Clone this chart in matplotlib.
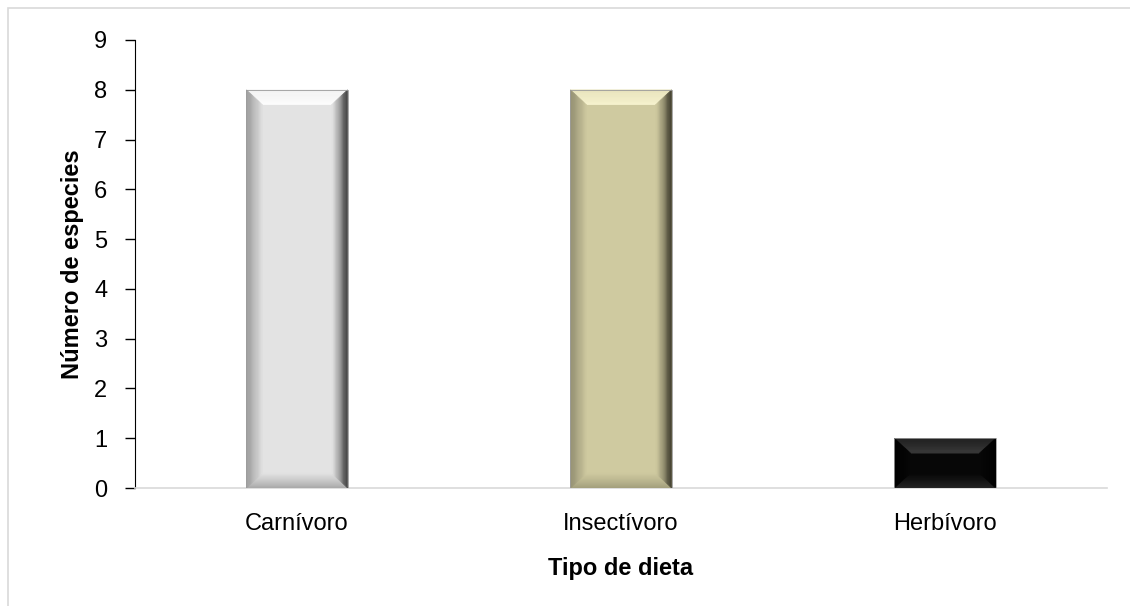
import matplotlib.pyplot as plt
import matplotlib.patches as mpatches
import matplotlib.colors as mcolors
import numpy as np

plt.rcParams['font.family'] = ['Liberation Sans', 'DejaVu Sans']

categorias = ['Carnívoro', 'Insectívoro', 'Herbívoro']
especies = [8, 8, 1]
colores_base = ['#e3e3e3', '#cfcaa0', '#070707']
colores_luz = ['#ffffff', '#fbf7d3', '#3a3a3a']
colores_izq = ['#989898', '#918d70', '#000000']
colores_der = ['#2a2a2a', '#2c2a1f', '#000000']
colores_inf = ['#a8a8a8', '#a29e7c', '#262626']


def mezcla(c1, c2, t):
    a = np.array(mcolors.to_rgb(c1))
    b = np.array(mcolors.to_rgb(c2))
    return tuple(np.clip(a + (b - a) * t, 0, 1))


def trapecio(ax, pts, color):
    ax.add_patch(mpatches.Polygon(pts, facecolor=color, edgecolor=color,
                                  linewidth=0.3, zorder=3))


def barra_biselada(ax, x, h, w, base, luz, izq, der, inf, bx=0.05, by=0.3, n=14):
    x0, x1 = x - w / 2, x + w / 2
    ax.add_patch(mpatches.Rectangle((x0, 0), w, h, facecolor=base,
                                    edgecolor='none', zorder=2))
    by = min(by, h / 3)
    # bisel dibujado en franjas para simular el degradado
    for i in range(n):
        t0, t1 = i / n, (i + 1) / n
        k = 1 - (i + 0.5) / n   # 1 en el borde, 0 hacia el interior
        trapecio(ax, [(x0 + bx * t0, h - by * t0), (x1 - bx * t0, h - by * t0),
                      (x1 - bx * t1, h - by * t1), (x0 + bx * t1, h - by * t1)],
                 mezcla(base, luz, 0.55 + 0.45 * (1 - k)))
        trapecio(ax, [(x0 + bx * t0, by * t0), (x1 - bx * t0, by * t0),
                      (x1 - bx * t1, by * t1), (x0 + bx * t1, by * t1)],
                 mezcla(base, inf, k))
        trapecio(ax, [(x0 + bx * t0, by * t0), (x0 + bx * t0, h - by * t0),
                      (x0 + bx * t1, h - by * t1), (x0 + bx * t1, by * t1)],
                 mezcla(base, izq, k ** 0.9))
        trapecio(ax, [(x1 - bx * t0, by * t0), (x1 - bx * t0, h - by * t0),
                      (x1 - bx * t1, h - by * t1), (x1 - bx * t1, by * t1)],
                 mezcla(base, der, k ** 1.3))
    ax.add_patch(mpatches.Rectangle((x0, 0), w, h, facecolor='none',
                                    edgecolor='#9a9a9a', linewidth=0.6, zorder=4))


fig = plt.figure(figsize=(11.3, 6.06), dpi=100)
ax = fig.add_axes([135 / 1130, 0.1947, 972 / 1130, 0.7393])

pos = np.arange(len(categorias))
for p, v, cb, cl, ci, cd, cf in zip(pos, especies, colores_base, colores_luz,
                                     colores_izq, colores_der, colores_inf):
    barra_biselada(ax, p, v, 0.312, cb, cl, ci, cd, cf)

ax.set_xlim(-0.5, 2.5)
ax.set_ylim(0, 9)
ax.set_yticks(range(0, 10))
ax.set_xticks(pos)
ax.set_xticklabels(categorias, fontsize=17)
ax.tick_params(axis='y', labelsize=17, length=7, width=1, pad=13, direction='out')
ax.tick_params(axis='x', length=0, pad=18)

for s in ['top', 'right']:
    ax.spines[s].set_visible(False)
ax.spines['left'].set_color('black')
ax.spines['bottom'].set_color('#d9d9d9')
ax.spines['bottom'].set_linewidth(1.2)

ax.set_ylabel('Número de especies', fontsize=17, fontweight='bold', labelpad=7)
ax.set_xlabel('Tipo de dieta', fontsize=17, fontweight='bold', labelpad=16)

# marco exterior del gráfico
fig.patches.append(mpatches.Rectangle((8 / 1130, -0.1), 1.2, 1 - 8 / 606 + 0.1,
                                      transform=fig.transFigure, fill=False,
                                      edgecolor='#d9d9d9', linewidth=1.2))

fig.savefig('out.png', dpi=100)
